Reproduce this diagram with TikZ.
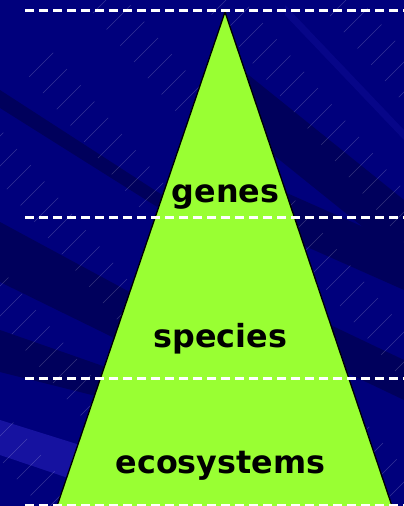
\documentclass[tikz,border=0pt]{standalone}
\usepackage{fontspec}
\setmainfont{DejaVu Sans}
\usepackage{xcolor}
\usepackage{tikz}
\usetikzlibrary{positioning,calc,backgrounds}
\definecolor{navy}{RGB}{0,0,124}
\definecolor{navydark}{RGB}{0,0,92}
\definecolor{navylight}{RGB}{22,18,160}
\definecolor{pyrgreen}{RGB}{153,255,51}
\tikzset{
  bgband/.style  = {fill=navydark, draw=none},
  bglite/.style  = {fill=navylight, draw=none},
  streak/.style  = {draw=white, opacity=0.2, line width=0.45pt,
                    dash pattern=on 34pt off 56pt},
  level/.style   = {draw=white, line width=3pt, dash pattern=on 8.5pt off 5.5pt},
  pyr/.style     = {fill=pyrgreen, draw=black, line width=1.3pt, line join=miter},
  lbl/.style     = {anchor=base, inner sep=0pt, text=black,
                    font=\fontsize{31.8}{36}\selectfont\bfseries},
}

\begin{document}
\begin{tikzpicture}[x=1pt,y=-1pt]
  \useasboundingbox (0,0) rectangle (404,506);
  % background
  \begin{scope}
    \clip (0,0) rectangle (404,506);
    \fill[navy] (0,0) rectangle (404,506);
    \fill[bgband] (0,90) -- (170,200) -- (170,215) -- (0,108) -- cycle;
    \fill[bgband] (0,222) -- (200,330) -- (200,380) -- (0,282) -- cycle;
    \fill[bgband] (0,330) -- (120,372) -- (120,402) -- (0,372) -- cycle;
    \fill[bgband] (230,60) -- (404,200) -- (404,260) -- (230,120) -- cycle;
    \fill[bgband] (280,190) -- (404,245) -- (404,290) -- (280,235) -- cycle;
    \fill[bgband] (320,320) -- (404,360) -- (404,400) -- (320,360) -- cycle;
    \fill[bglite] (0,420) -- (80,445) -- (80,482) -- (0,455) -- cycle;
    \fill[navylight, opacity=0.35] (285,5) -- (404,130) -- (404,140) -- (285,15) -- cycle;
    \foreach \k [count=\i] in {-400,-370,...,420}
      \draw[streak, dash phase={\i*23pt}] (\k,506) -- ++(506,-506);
  \end{scope}
  % pyramid
  \begin{scope}
    \clip (0,0) rectangle (404,506);
    \draw[pyr] (225,12) -- (394,512) -- (55,512) -- cycle;
  \end{scope}
  % level lines
  \coordinate (l0a) at (25,10);   \coordinate (l0b) at (404,10);
  \coordinate (l1a) at (25,217);  \coordinate (l1b) at (404,217);
  \coordinate (l2a) at (25,378);  \coordinate (l2b) at (404,378);
  \coordinate (l3a) at (25,505);  \coordinate (l3b) at (404,505);
  \foreach \n in {0,1,2,3}
    \draw[level] (l\n a) -- (l\n b);
  % labels
  \node[lbl] (genes) at (225.5,202) {genes};
  \node[lbl] (species) at (220.5,347) {species};
  \node[lbl] (ecosys) at (220.5,473) {ecosystems};
\end{tikzpicture}
\end{document}
